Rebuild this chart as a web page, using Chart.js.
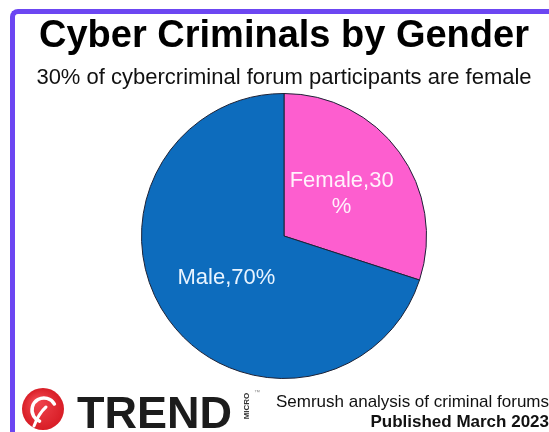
<!DOCTYPE html>
<html>
<head>
<meta charset="utf-8">
<script src="https://cdn.jsdelivr.net/npm/chart.js@4.4.0/dist/chart.umd.min.js"></script>
<style>
    html, body { margin: 0; padding: 0; background: #ffffff; }
    #wrap { position: relative; width: 549px; height: 432px; overflow: hidden; }
    #moldura {
        position: absolute; left: 10px; top: 9px; width: 700px; height: 600px;
        border-left: 5px solid #6c46f2; border-top: 5px solid #6c46f2;
        border-top-left-radius: 8px; box-sizing: border-box;
    }
    #grafico { position: absolute; left: 0; top: 0; }
</style>
</head>
<body>
<div id="wrap">
    <div id="moldura"></div>
    <canvas id="grafico" width="549" height="432"></canvas>
</div>
<script>
// dados do gráfico
const categorias = ['Female', 'Male'];
const valores = [30, 70];
const cores = ['#fd5ecf', '#0d6cbd'];
const coresRotulo = ['#fff2fc', '#e8f4ff'];

const titulo = 'Cyber Criminals by Gender';
const subtitulo = '30% of cybercriminal forum participants are female';
const rodape = ['Semrush analysis of criminal forums', 'Published March 2023'];

const FONTE = "'Liberation Sans', Arial, Helvetica, sans-serif";

// quebra o texto por caracteres, como o Excel faz dentro da fatia
function quebrarTexto(ctx, texto, larguraMax) {
    const linhas = [];
    let atual = '';
    for (const c of texto) {
        if (atual && ctx.measureText(atual + c).width > larguraMax) {
            linhas.push(atual);
            atual = c;
        } else {
            atual += c;
        }
    }
    if (atual) linhas.push(atual);
    return linhas;
}

// rótulos dentro das fatias
const rotulosFatias = {
    id: 'rotulosFatias',
    afterDatasetsDraw(chart) {
        const ctx = chart.ctx;
        const meta = chart.getDatasetMeta(0);
        ctx.save();
        ctx.font = '22px ' + FONTE;
        ctx.textAlign = 'center';
        ctx.textBaseline = 'middle';
        meta.data.forEach((arco, i) => {
            const meio = (arco.startAngle + arco.endAngle) / 2;
            const dist = arco.outerRadius * 0.5;
            const x = arco.x + Math.cos(meio) * dist;
            const y = arco.y + Math.sin(meio) * dist;
            const texto = categorias[i] + ',' + valores[i] + '%';
            const linhas = quebrarTexto(ctx, texto, 110);
            const alturaLinha = 26;
            const y0 = y - (linhas.length - 1) * alturaLinha / 2;
            ctx.fillStyle = coresRotulo[i];
            linhas.forEach((l, k) => ctx.fillText(l, x, y0 + k * alturaLinha));
        });
        ctx.restore();
    }
};

// logo e texto do rodapé
const rodapePlugin = {
    id: 'rodape',
    afterDraw(chart) {
        const ctx = chart.ctx;
        ctx.save();

        // bola vermelha
        const cx = 43, cy = 409, r = 21;
        const grad = ctx.createRadialGradient(cx - 7, cy - 8, 2, cx, cy, r);
        grad.addColorStop(0, '#f0454e');
        grad.addColorStop(1, '#d81d26');
        ctx.fillStyle = grad;
        ctx.beginPath();
        ctx.arc(cx, cy, r, 0, Math.PI * 2);
        ctx.fill();

        // "swoosh" branco
        ctx.strokeStyle = '#ffffff';
        ctx.lineCap = 'round';
        ctx.lineWidth = 3.5;
        ctx.beginPath();
        ctx.arc(cx + 1, cy + 1, 12, -Math.PI / 6, Math.PI * 0.62, true);
        ctx.stroke();
        ctx.lineWidth = 3;
        ctx.beginPath();
        ctx.moveTo(cx + 3, cy - 2);
        ctx.quadraticCurveTo(cx - 4, cy + 4, cx - 9, cy + 17);
        ctx.stroke();

        // TREND
        ctx.fillStyle = '#1c1c1c';
        ctx.textAlign = 'left';
        ctx.textBaseline = 'alphabetic';
        ctx.font = 'bold 45px ' + FONTE;
        ctx.fillText('TREND', 77, 428);

        // MICRO vertical (lido de baixo para cima)
        ctx.save();
        ctx.translate(247, 406);
        ctx.rotate(-Math.PI / 2);
        ctx.font = 'bold 8px ' + FONTE;
        ctx.textAlign = 'center';
        ctx.textBaseline = 'middle';
        ctx.fillStyle = '#333333';
        ctx.fillText('MICRO', 0, 0);
        ctx.restore();
        ctx.font = '6px ' + FONTE;
        ctx.fillStyle = '#888888';
        ctx.fillText('™', 254, 394);

        // créditos
        ctx.fillStyle = '#111111';
        ctx.textAlign = 'right';
        ctx.font = '17px ' + FONTE;
        ctx.fillText(rodape[0], 549, 407);
        ctx.font = 'bold 17px ' + FONTE;
        ctx.fillText(rodape[1], 549, 427);

        ctx.restore();
    }
};

new Chart(document.getElementById('grafico'), {
    type: 'pie',
    data: {
        labels: categorias,
        datasets: [{
            data: valores,
            backgroundColor: cores,
            borderColor: '#1d2236',
            borderWidth: 1
        }]
    },
    options: {
        responsive: false,
        animation: false,
        layout: {
            padding: { left: 19, right: 0, top: 0, bottom: 53 }
        },
        plugins: {
            legend: { display: false },
            tooltip: { enabled: false },
            title: {
                display: true,
                text: titulo,
                color: '#000000',
                font: { family: FONTE, size: 38, weight: 'bold' },
                padding: { top: 14, bottom: 0 }
            },
            subtitle: {
                display: true,
                text: subtitulo,
                color: '#111111',
                font: { family: FONTE, size: 22 },
                padding: { top: 5, bottom: 2 }
            }
        }
    },
    plugins: [rotulosFatias, rodapePlugin]
});
</script>
</body>
</html>
